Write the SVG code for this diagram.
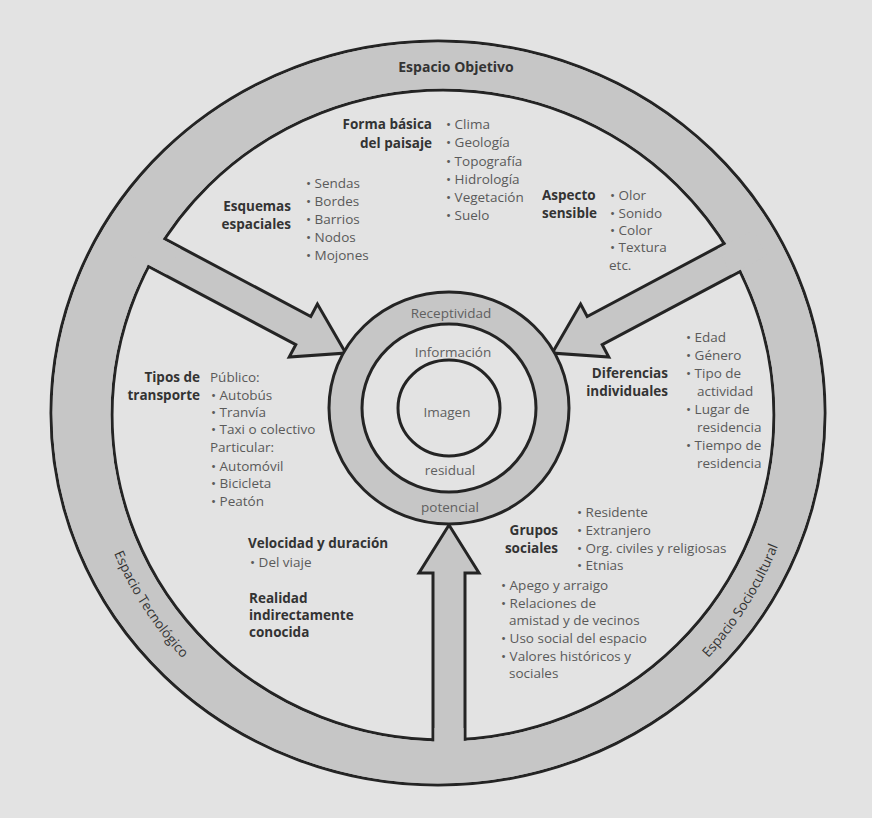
<svg xmlns="http://www.w3.org/2000/svg" width="872" height="818" viewBox="0 0 872 818">
<style>
text{font-family:"Open Sans","Liberation Sans",sans-serif;font-size:13.5px}
.t{fill:#5a5a5a}
.b{fill:#333;font-weight:bold}
.e{text-anchor:end}
.m{text-anchor:middle}
.c{fill:#606060;text-anchor:middle}
.r{fill:#333}
.ln{stroke:#242424;stroke-width:3}
.g{fill:#c6c6c6}
.bg{fill:#e3e3e3}
</style>
<defs>
<path id="arcT" d="M 86.5 433.2 A 357 357 0 0 0 280.9 732.6"/>
<path id="arcS" d="M 612 732.4 A 360 360 0 0 0 802.8 427.1"/>
</defs>
<rect width="872" height="818" fill="#e3e3e3"/>
<g id="outer-ring">
<ellipse cx="438" cy="413" rx="387" ry="372" class="g ln"/>
<ellipse cx="443" cy="415" rx="331" ry="325" class="bg ln"/>
</g>
<g id="connectors">
<polygon class="g ln" points="345.7,353.1 317.4,304.1 310.8,316.5 141.3,226.4 126.3,254.6 295.8,344.7 289.2,357.1"/>
<polygon class="g ln" points="552.3,353.1 580.6,304.1 587.2,316.5 756.7,226.4 771.7,254.6 602.2,344.7 608.8,357.1"/>
<polygon class="g ln" points="449,525 479,573 465,573 465,780 433,780 433,573 419,573"/>
<path class="g" fill-rule="evenodd" d="M 52.5 413 a 385.5 370.5 0 1 0 771 0 a 385.5 370.5 0 1 0 -771 0 Z M 110.5 415 a 332.5 326.5 0 1 0 665 0 a 332.5 326.5 0 1 0 -665 0 Z"/>
<polygon class="g" points="180.3,248.8 166.7,274.4 131.4,255.7 145,230.1"/>
<polygon class="g" points="717.7,248.8 731.3,274.4 766.6,255.7 753,230.1"/>
<rect class="g" x="434.5" y="728" width="29" height="54"/>
</g>
<g id="center">
<ellipse cx="449" cy="408" rx="120" ry="116" class="g ln"/>
<ellipse cx="449" cy="408" rx="87" ry="84" class="bg ln"/>
<ellipse cx="449" cy="408" rx="51" ry="48" class="bg ln"/>
<text class="c" x="451" y="318">Receptividad</text>
<text class="c" x="453" y="357">Información</text>
<text class="c" x="447" y="417">Imagen</text>
<text class="c" x="450" y="475">residual</text>
<text class="c" x="450" y="512">potencial</text>
</g>
<g id="ring-labels">
<text class="b m" x="456" y="72" style="font-size:14px">Espacio Objetivo</text>
<text class="r"><textPath href="#arcT" startOffset="50%" text-anchor="middle">Espacio Tecnológico</textPath></text>
<text class="r"><textPath href="#arcS" startOffset="50%" text-anchor="middle">Espacio Sociocultural</textPath></text>
</g>
<g id="forma-basica">
<text class="b e" x="432" y="129">Forma básica</text>
<text class="b e" x="432" y="148">del paisaje</text>
<text class="t" x="446" y="129">• Clima</text>
<text class="t" x="446" y="147">• Geología</text>
<text class="t" x="446" y="166">• Topografía</text>
<text class="t" x="446" y="184">• Hidrología</text>
<text class="t" x="446" y="202">• Vegetación</text>
<text class="t" x="446" y="220">• Suelo</text>
</g>
<g id="esquemas">
<text class="b e" x="291" y="211">Esquemas</text>
<text class="b e" x="291" y="229">espaciales</text>
<text class="t" x="306" y="188">• Sendas</text>
<text class="t" x="306" y="206">• Bordes</text>
<text class="t" x="306" y="224">• Barrios</text>
<text class="t" x="306" y="242">• Nodos</text>
<text class="t" x="306" y="260">• Mojones</text>
</g>
<g id="aspecto">
<text class="b" x="542" y="200">Aspecto</text>
<text class="b" x="542" y="218">sensible</text>
<text class="t" x="610" y="200">• Olor</text>
<text class="t" x="610" y="218">• Sonido</text>
<text class="t" x="610" y="235">• Color</text>
<text class="t" x="610" y="252">• Textura</text>
<text class="t" x="609" y="270">etc.</text>
</g>
<g id="transporte">
<text class="b e" x="200" y="382">Tipos de</text>
<text class="b e" x="200" y="400">transporte</text>
<text class="t" x="210" y="382">Público:</text>
<text class="t" x="211" y="400">• Autobús</text>
<text class="t" x="211" y="417">• Tranvía</text>
<text class="t" x="211" y="434">• Taxi o colectivo</text>
<text class="t" x="210" y="452">Particular:</text>
<text class="t" x="211" y="471">• Automóvil</text>
<text class="t" x="211" y="488">• Bicicleta</text>
<text class="t" x="211" y="506">• Peatón</text>
</g>
<g id="diferencias">
<text class="b e" x="668" y="378">Diferencias</text>
<text class="b e" x="668" y="396">individuales</text>
<text class="t" x="686" y="342">• Edad</text>
<text class="t" x="686" y="360">• Género</text>
<text class="t" x="686" y="378">• Tipo de</text>
<text class="t" x="697" y="396">actividad</text>
<text class="t" x="686" y="414">• Lugar de</text>
<text class="t" x="697" y="432">residencia</text>
<text class="t" x="686" y="450">• Tiempo de</text>
<text class="t" x="697" y="468">residencia</text>
</g>
<g id="velocidad">
<text class="b" x="248" y="548">Velocidad y duración</text>
<text class="t" x="250" y="567">• Del viaje</text>
<text class="b" x="249" y="603">Realidad</text>
<text class="b" x="249" y="620">indirectamente</text>
<text class="b" x="249" y="637">conocida</text>
</g>
<g id="grupos">
<text class="b e" x="558" y="535">Grupos</text>
<text class="b e" x="558" y="553">sociales</text>
<text class="t" x="577" y="517">• Residente</text>
<text class="t" x="577" y="535">• Extranjero</text>
<text class="t" x="577" y="553">• Org. civiles y religiosas</text>
<text class="t" x="577" y="570">• Etnias</text>
<text class="t" x="501" y="590">• Apego y arraigo</text>
<text class="t" x="501" y="608">• Relaciones de</text>
<text class="t" x="509" y="625">amistad y de vecinos</text>
<text class="t" x="501" y="643">• Uso social del espacio</text>
<text class="t" x="501" y="661">• Valores históricos y</text>
<text class="t" x="509" y="678">sociales</text>
</g>
</svg>
